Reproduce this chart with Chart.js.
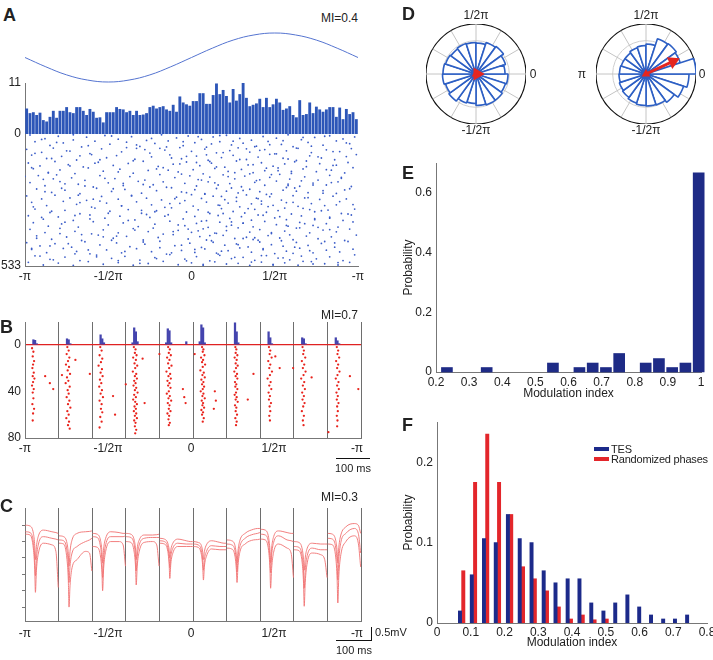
<!DOCTYPE html>
<html>
<head>
<meta charset="utf-8">
<script src="https://cdn.jsdelivr.net/npm/chart.js@4.4.1/dist/chart.umd.min.js"></script>
<style>
  body { margin: 0; width: 713px; height: 660px; position: relative; overflow: hidden; background: #fff;
         font-family: 'Liberation Sans', Arial, sans-serif; color: #222; }
  canvas { position: absolute; }
  .t { position: absolute; font-size: 12px; line-height: 1; white-space: nowrap; }
  .c { transform: translate(-50%, -50%); }
  .r { transform: translate(-100%, -50%); }
  .m { transform: translate(0, -50%); }
  .L { position: absolute; font-size: 18px; font-weight: bold; line-height: 1; }
  .bar { position: absolute; border-color: #111; border-style: solid; border-width: 0; }
  .key { position: absolute; width: 15px; height: 4px; }
</style>
</head>
<body>
<canvas id="aSine" width="333" height="64" style="left:25px;top:26px"></canvas>
<canvas id="aHist" width="372" height="75" style="left:0;top:70px"></canvas>
<canvas id="aRaster" width="372" height="162" style="left:0;top:126px"></canvas>
<canvas id="bChart" width="380" height="160" style="left:0;top:300px"></canvas>
<canvas id="cChart" width="380" height="150" style="left:0;top:495px"></canvas>
<canvas id="dGridL" width="100" height="100" style="left:426px;top:24px"></canvas>
<canvas id="dPolarL" width="100" height="100" style="left:426px;top:24px"></canvas>
<canvas id="dArrowL" width="100" height="100" style="left:426px;top:24px"></canvas>
<canvas id="dGridR" width="100" height="100" style="left:596px;top:24px"></canvas>
<canvas id="dPolarR" width="100" height="100" style="left:596px;top:24px"></canvas>
<canvas id="dArrowR" width="100" height="100" style="left:596px;top:24px"></canvas>
<canvas id="eChart" width="313" height="255" style="left:400px;top:150px"></canvas>
<canvas id="fChart" width="313" height="245" style="left:400px;top:410px"></canvas>

<div class="L" style="left:3px;top:6px">A</div>
<div class="t r" style="left:358px;top:18px">MI=0.4</div>
<div class="L" style="left:0;top:318px">B</div>
<div class="t r" style="left:358px;top:315px">MI=0.7</div>
<div class="bar" style="left:336px;top:458px;width:34px;border-top-width:1.5px"></div>
<div class="t c" style="left:353px;top:468px;font-size:11px">100 ms</div>
<div class="L" style="left:0;top:497px">C</div>
<div class="t r" style="left:358px;top:497px">MI=0.3</div>
<div class="bar" style="left:371px;top:627px;height:14px;border-left-width:1.5px"></div>
<div class="bar" style="left:336px;top:640px;width:36px;border-top-width:1.5px"></div>
<div class="t m" style="left:375px;top:632px;font-size:11px">0.5mV</div>
<div class="t c" style="left:354px;top:650px;font-size:11px">100 ms</div>

<div class="L" style="left:402px;top:5px">D</div>
<div class="t c" style="left:476px;top:15px">1/2π</div>
<div class="t c" style="left:533px;top:74px">0</div>
<div class="t c" style="left:476px;top:130px">-1/2π</div>
<div class="t c" style="left:646px;top:15px">1/2π</div>
<div class="t c" style="left:702px;top:74px">0</div>
<div class="t c" style="left:582px;top:74px">π</div>
<div class="t c" style="left:646px;top:130px">-1/2π</div>

<div class="L" style="left:402px;top:164px">E</div>
<div class="L" style="left:402px;top:416px">F</div>
<div class="key" style="left:594px;top:446.5px;background:#1c2a8a"></div>
<div class="t m" style="left:611px;top:448.5px;font-size:11px;letter-spacing:-0.2px">TES</div>
<div class="key" style="left:594px;top:456.5px;background:#e3262b"></div>
<div class="t m" style="left:611px;top:458.5px;font-size:11px;letter-spacing:-0.2px">Randomized phases</div>

<script>
// ---- shared phase axis (units of pi) ----
const phaseTicks = [-1, -0.5, 0, 0.5, 1];
const phaseLabels = ['-π', '-1/2π', '0', '1/2π', '-π'];

// ---- A: reference oscillation, phase histogram, spike raster ----
const sinePhase = [-1, -0.875, -0.75, -0.625, -0.5, -0.375, -0.25, -0.125, 0, 0.125, 0.25, 0.375, 0.5, 0.625, 0.75, 0.875, 1];
const sineValue = [0, -0.38, -0.71, -0.92, -1, -0.92, -0.71, -0.38, 0, 0.38, 0.71, 0.92, 1, 0.92, 0.71, 0.38, 0];

const histA = [5.5, 4.5, 4.7, 4.1, 4.6, 3.0, 2.7, 3.7, 5.0, 3.5, 5.0, 5.0, 5.8, 4.7, 4.5, 5.8, 5.8, 5.0, 4.1, 5.4,
  4.8, 3.5, 3.6, 2.5, 4.7, 4.7, 4.7, 5.8, 5.4, 5.3, 4.7, 5.0, 4.1, 5.0, 4.1, 4.2, 4.5, 5.8, 6.1, 5.5,
  5.8, 6.0, 5.3, 5.0, 6.3, 4.8, 8.1, 6.8, 6.4, 6.1, 7.1, 7.1, 8.8, 8.8, 6.5, 6.5, 8.4, 10.9, 8.6, 9.5,
  8.2, 6.8, 9.7, 7.2, 8.6, 11.2, 7.8, 6.0, 6.3, 6.6, 7.6, 5.8, 7.8, 5.8, 6.4, 7.6, 6.8, 5.2, 5.5, 6.0,
  4.1, 3.6, 7.3, 4.1, 4.3, 6.8, 4.5, 5.9, 5.3, 4.8, 5.3, 5.8, 5.8, 3.7, 5.7, 3.2, 5.4, 4.3, 4.7, 3.2];

// [phase in % of pi, trial]
const rasterA = [
  [-97,4],[-88,19],[-80,9],[-71,24],[-63,13],[-52,6],[-44,21],[-36,11],[-27,26],[-18,3],[-9,16],[-2,8],[6,22],[13,12],[21,5],[29,18],[36,25],[43,10],[51,17],[58,3],[66,23],[74,14],[83,7],[91,20],[98,12],
  [-94,31],[-85,46],[-77,36],[-66,52],[-58,29],[-49,41],[-39,33],[-31,50],[-22,38],[-14,28],[-5,47],[2,35],[9,53],[17,31],[24,44],[31,37],[39,49],[46,30],[54,42],[61,51],[70,34],[79,45],[87,28],[95,39],
  [-99,62],[-90,74],[-83,57],[-73,69],[-61,79],[-54,60],[-42,72],[-33,58],[-25,77],[-16,65],[-7,55],[0,70],[8,61],[15,76],[23,67],[28,56],[35,73],[44,63],[50,80],[57,68],[64,58],[72,75],[81,64],[89,71],[96,59],
  [-96,85],[-87,99],[-78,90],[-69,105],[-60,83],[-51,96],[-45,87],[-34,102],[-24,92],[-13,84],[-6,100],[3,89],[10,106],[18,95],[25,86],[33,103],[40,93],[47,82],[55,98],[63,107],[71,88],[78,97],[86,104],[93,91],[99,83],
  [-98,117],[-91,129],[-82,111],[-74,124],[-65,133],[-56,114],[-47,127],[-38,119],[-29,110],[-20,131],[-11,122],[-3,113],[5,128],[12,118],[20,134],[27,109],[34,125],[42,116],[49,130],[56,121],[62,112],[69,132],[77,120],[85,127],[94,115],
  [-95,140],[-86,155],[-79,145],[-70,160],[-62,137],[-53,150],[-43,142],[-35,158],[-26,147],[-17,136],[-8,153],[1,144],[7,161],[14,139],[22,151],[30,143],[37,156],[45,138],[52,148],[60,159],[67,141],[75,152],[84,146],[92,157],[97,136],
  [-100,171],[-89,183],[-81,165],[-72,177],[-64,187],[-55,168],[-46,180],[-37,172],[-28,186],[-19,164],[-10,176],[-1,169],[4,184],[11,174],[19,165],[26,181],[32,170],[39,188],[47,175],[53,163],[59,182],[68,173],[76,186],[83,167],[90,179],
  [-97,196],[-88,209],[-79,192],[-68,203],[-59,214],[-50,197],[-41,208],[-32,191],[-23,205],[-15,215],[-4,199],[3,210],[10,193],[16,206],[23,200],[30,213],[38,195],[44,207],[51,190],[58,202],[65,211],[73,198],[81,206],[88,193],[96,212],
  [-93,222],[-84,236],[-76,227],[-67,241],[-57,219],[-48,232],[-40,224],[-30,239],[-21,229],[-12,217],[-6,234],[2,225],[8,241],[15,220],[21,231],[28,238],[35,223],[41,233],[48,242],[55,227],[62,218],[70,237],[79,229],[87,240],[95,221],
  [-99,250],[-90,262],[-82,247],[-73,258],[-63,268],[-54,252],[-44,263],[-36,248],[-27,259],[-18,266],[-9,255],[0,245],[6,260],[13,251],[20,265],[27,256],[33,246],[40,261],[47,253],[54,267],[61,249],[68,258],[77,264],[85,251],[93,262],
  [-96,276],[-87,289],[-77,272],[-69,284],[-60,295],[-51,279],[-42,290],[-33,274],[-24,286],[-16,296],[-7,280],[1,291],[9,275],[16,287],[22,279],[29,294],[36,282],[42,271],[49,288],[57,277],[64,292],[72,281],[80,289],[89,273],[97,285],
  [-94,303],[-85,317],[-76,308],[-67,322],[-58,299],[-49,312],[-38,305],[-30,320],[-21,310],[-12,298],[-3,315],[4,306],[11,321],[18,301],[25,313],[32,319],[38,304],[45,316],[52,309],[60,323],[67,300],[74,314],[82,307],[90,321],[98,303],
  [-98,330],[-89,344],[-80,335],[-71,349],[-61,327],[-52,340],[-43,332],[-34,347],[-25,337],[-14,326],[-5,343],[2,333],[9,350],[16,329],[23,341],[30,334],[36,348],[43,328],[50,339],[57,346],[66,331],[74,342],[83,336],[91,349],[96,327],
  [-95,358],[-86,372],[-78,363],[-68,376],[-59,354],[-50,367],[-41,359],[-32,374],[-22,364],[-13,352],[-4,370],[3,361],[10,377],[17,356],[24,368],[31,360],[37,375],[44,353],[51,366],[58,372],[65,357],[73,369],[81,362],[88,376],[97,355],
  [-97,385],[-88,398],[-79,381],[-70,393],[-60,403],[-53,387],[-44,399],[-35,382],[-26,394],[-17,404],[-8,389],[0,397],[7,383],[14,400],[21,390],[28,379],[35,396],[41,386],[48,402],[56,392],[63,380],[71,399],[79,388],[87,395],[95,384],
  [-93,411],[-84,425],[-75,416],[-66,430],[-56,408],[-47,421],[-39,413],[-29,428],[-20,418],[-11,406],[-2,424],[5,414],[12,431],[19,409],[26,422],[33,417],[40,429],[46,410],[53,420],[61,427],[69,412],[76,423],[84,415],[92,430],[99,408],
  [-99,439],[-91,452],[-82,443],[-72,457],[-64,435],[-55,448],[-45,440],[-37,455],[-28,445],[-19,433],[-10,451],[-1,441],[6,458],[13,437],[20,449],[27,444],[34,456],[41,436],[48,447],[55,453],[63,438],[70,450],[78,442],[86,457],[94,434],
  [-96,466],[-87,479],[-77,462],[-69,474],[-61,484],[-51,468],[-42,480],[-33,463],[-24,475],[-15,485],[-6,470],[2,478],[8,464],[15,481],[22,471],[29,460],[36,477],[43,467],[50,483],[57,473],[65,461],[73,480],[81,469],[89,476],[97,465],
  [-94,492],[-85,506],[-76,497],[-67,511],[-57,489],[-48,502],[-40,494],[-31,509],[-22,499],[-13,487],[-4,505],[3,495],[11,512],[17,490],[24,503],[31,498],[38,510],[45,491],[52,501],[59,508],[66,493],[75,504],[83,496],[91,511],[98,488],
  [-98,518],[-89,529],[-80,521],[-71,531],[-62,515],[-53,526],[-44,519],[-35,530],[-26,523],[-17,514],[-8,528],[0,520],[7,532],[14,516],[21,525],[28,522],[35,531],[42,517],[49,527],[56,520],[64,530],[72,515],[80,524],[88,529],[95,518],
  [12,40],[-71,3],[55,27],[-33,44],[80,9],[-5,31],[38,51],[-90,22],[67,14],[-48,8],[25,29],[-15,52],[93,36],[-62,47],[4,11],[47,43],[-81,34],[72,49],[-24,18],[17,6],
  [-67,88],[33,60],[-12,97],[85,71],[-39,55],[58,101],[-94,78],[9,84],[41,66],[-55,104],[76,92],[-28,63],[19,75],[-84,99],[63,57],[-3,90],[29,103],[-75,68],[51,80],[-19,58],
  [44,148],[-58,118],[15,133],[-86,157],[69,109],[-21,141],[87,126],[-44,153],[3,115],[52,137],[-73,129],[26,156],[-7,121],[81,144],[-35,108],[60,151],[-96,136],[37,124],[-14,146],[11,111],
  [-41,199],[22,172],[73,206],[-83,181],[48,164],[-17,193],[90,175],[-64,210],[6,186],[35,161],[-29,204],[66,189],[-92,168],[14,197],[-52,179],[58,208],[-6,162],[41,185],[-76,201],[84,196],
  [31,228],[-68,247],[57,216],[-10,261],[79,239],[-47,221],[18,252],[-88,233],[45,244],[-25,214],[70,257],[-3,237],[24,218],[-59,263],[92,226],[-36,250],[8,243],[63,231],[-78,219],[39,259],
  [-13,281],[56,299],[-84,312],[27,272],[71,305],[-42,290],[10,316],[-67,277],[46,293],[-30,308],[87,286],[-4,269],[34,301],[-95,294],[61,276],[-22,314],[17,288],[-55,271],[78,310],[42,283],
  [53,334],[-76,356],[19,321],[-38,349],[83,340],[-8,367],[40,327],[-61,343],[68,362],[-27,325],[6,352],[-90,337],[31,360],[-50,320],[74,346],[-16,332],[57,369],[-70,329],[24,355],[94,323],
  [-34,388],[11,410],[65,379],[-79,402],[38,419],[-11,394],[83,386],[-53,415],[21,373],[48,398],[-93,421],[59,407],[-23,380],[4,391],[-66,406],[31,422],[76,377],[-45,412],[15,401],[-2,384],
  [28,447],[-62,468],[54,431],[-19,459],[86,440],[-40,474],[9,428],[-85,452],[43,463],[-29,436],[71,471],[-6,449],[37,426],[-74,443],[62,457],[-48,429],[18,473],[-96,462],[80,434],[2,466],
  [-57,496],[16,485],[67,514],[-31,522],[42,491],[-83,508],[7,527],[55,500],[-12,480],[88,519],[-44,511],[26,498],[-70,484],[73,525],[-21,503],[36,517],[-91,493],[61,482],[-3,512],[49,529]
];

// ---- B: spike histogram (ms, count) and raster [ms, trial] over 10 cycles ----
const histBTime = [25, 30, 35, 125, 130, 135, 225, 230, 235, 320, 325, 330, 335, 420, 425, 430, 435, 480,
  520, 525, 530, 535, 625, 630, 635, 725, 730, 735, 825, 830, 835, 925, 930, 935];
const histBCount = [4.3, 3.8, 0.9, 5.1, 4.3, 0.9, 8.5, 5.1, 1.7, 1.7, 14.5, 11.1, 2.6, 1.7, 13.7, 12, 1.7, 2.6,
  2.6, 17.1, 14.5, 1.7, 18.8, 11.1, 1.7, 11.1, 6, 0.9, 6, 5.1, 0.9, 6, 3.4, 0.9];

const rasterB = [
  [21,3],[25,6],[23,10],[27,14],[24,17],[22,20],[26,24],[23,27],[28,29],[24,32],[21,35],[26,38],[23,41],[25,46],[22,51],[27,55],[24,59],[23,65],[74,33],[84,38],[60,27],
  [126,2],[130,5],[124,8],[132,11],[128,14],[122,17],[131,19],[127,22],[134,25],[125,28],[129,31],[121,33],[133,36],[127,39],[130,42],[124,45],[132,48],[128,51],[135,54],[126,57],[130,60],[123,63],[131,66],[128,69],[133,72],[110,26],[150,13],
  [224,2],[228,5],[222,9],[230,12],[226,15],[219,18],[229,21],[225,24],[231,27],[223,30],[227,33],[221,36],[229,39],[225,42],[232,45],[222,48],[228,51],[226,55],[230,58],[224,62],[228,66],[222,71],[193,25],[268,60],[262,44],
  [324,2],[329,4],[327,7],[332,9],[322,11],[330,13],[326,16],[334,18],[328,20],[321,23],[331,25],[327,27],[333,29],[325,31],[329,33],[323,35],[331,37],[327,39],[335,41],[325,43],[330,45],[322,47],[328,49],[333,51],[326,53],[330,55],[324,57],[331,59],[327,61],[333,63],[325,65],[329,67],[327,70],[331,73],[328,76],[350,12],[356,50],[300,34],
  [426,2],[431,4],[428,7],[434,9],[423,11],[430,13],[426,16],[436,18],[429,20],[421,23],[432,25],[427,27],[434,29],[424,31],[430,33],[426,35],[433,37],[428,40],[422,42],[431,44],[427,46],[435,48],[425,50],[430,52],[428,55],[433,57],[424,59],[429,61],[427,64],[431,67],[428,69],[400,8],[474,45],[478,50],[470,38],
  [527,2],[531,4],[529,6],[534,9],[524,11],[530,13],[527,15],[536,17],[529,19],[522,22],[532,24],[528,26],[535,28],[525,30],[531,32],[527,34],[533,36],[529,38],[523,40],[531,42],[528,44],[535,46],[526,48],[530,50],[528,52],[533,54],[525,56],[530,58],[527,60],[532,63],[529,66],[565,40],[568,48],[562,55],[505,8],
  [626,2],[629,4],[627,7],[632,9],[624,11],[630,13],[627,16],[633,18],[628,20],[623,23],[631,25],[627,27],[632,29],[625,32],[629,34],[626,36],[632,38],[628,41],[624,43],[630,45],[627,47],[633,49],[625,52],[629,54],[627,57],[631,60],[626,63],[630,66],[628,69],[680,25],[663,47],
  [726,2],[730,5],[728,8],[734,11],[724,14],[730,17],[727,20],[735,23],[729,26],[722,29],[731,32],[727,35],[733,38],[725,41],[729,44],[726,47],[732,50],[728,53],[730,57],[727,61],[729,65],[758,20],[745,10],
  [826,2],[830,5],[828,8],[834,11],[824,14],[831,17],[827,20],[835,23],[829,26],[822,29],[831,32],[827,35],[833,38],[825,41],[830,44],[826,47],[832,50],[828,53],[824,57],[830,61],[827,65],[829,69],[798,20],[853,28],
  [928,2],[932,5],[930,8],[935,11],[926,14],[932,17],[929,20],[936,23],[930,26],[925,29],[933,32],[929,35],[934,38],[927,41],[931,44],[928,47],[933,50],[929,53],[931,57],[928,61],[930,65],[929,70],[903,75],[967,27],[992,38]
];

// ---- C: averaged traces per cycle (mean and +/- sd), 11 samples per cycle ----
const cycleStarts = [0, 100, 200, 300, 400, 500, 600, 700, 800, 900];
const traceOffsets = [1, 15, 25, 29, 31, 34, 40, 55, 80, 92, 99];
const traceUpper = [
  6.0, 5.95, 5.5, 4.75, 3.9, 4.7, 5.35, 5.7, 5.6, 5.55, 5.5,
  5.35, 5.3, 4.9, 4.25, 3.5, 4.4, 5.1, 5.5, 5.6, 5.62, 5.65,
  5.5, 5.45, 5.05, 4.4, 3.7, 4.55, 5.2, 5.6, 5.55, 5.5, 5.5,
  5.5, 5.45, 5.1, 4.55, 3.9, 4.6, 5.1, 5.4, 5.4, 5.42, 5.45,
  5.2, 5.15, 4.9, 4.5, 4.0, 4.5, 4.9, 5.15, 5.05, 5.0, 5.0,
  5.0, 4.95, 4.75, 4.35, 3.9, 4.4, 4.8, 5.05, 4.95, 4.9, 4.9,
  5.1, 5.05, 4.75, 4.2, 3.7, 4.45, 5.1, 5.5, 5.75, 5.8, 5.8,
  5.75, 5.7, 5.25, 4.5, 3.7, 4.6, 5.3, 5.65, 5.55, 5.5, 5.5,
  5.0, 4.95, 4.55, 3.9, 3.25, 4.0, 4.6, 4.9, 4.85, 4.85, 4.85,
  5.5, 5.45, 5.05, 4.4, 3.7, 4.65, 5.4, 5.9, 6.1, 6.0, 5.5];
const traceMiddle = [
  5.6, 5.55, 4.95, 3.95, 2.9, 3.95, 4.85, 5.3, 5.2, 5.15, 5.1,
  5.1, 5.05, 4.45, 3.55, 2.5, 3.5, 4.3, 4.7, 5.0, 5.1, 5.2,
  5.3, 5.25, 4.65, 3.8, 2.8, 3.9, 4.8, 5.3, 5.3, 5.3, 5.35,
  5.3, 5.25, 4.8, 4.05, 3.2, 4.1, 4.8, 5.2, 5.25, 5.25, 5.25,
  5.05, 5.0, 4.65, 4.05, 3.4, 4.1, 4.6, 4.9, 4.85, 4.85, 4.85,
  4.85, 4.8, 4.45, 3.85, 3.25, 3.9, 4.4, 4.75, 4.7, 4.7, 4.7,
  4.85, 4.8, 4.45, 3.8, 3.15, 4.05, 4.75, 5.2, 5.45, 5.5, 5.55,
  5.45, 5.4, 4.9, 4.0, 3.1, 4.15, 4.95, 5.35, 5.1, 5.05, 5.0,
  4.7, 4.65, 4.1, 3.2, 2.15, 3.25, 4.15, 4.6, 4.5, 4.5, 4.5,
  5.2, 5.15, 4.6, 3.7, 2.65, 3.9, 4.95, 5.5, 5.8, 5.5, 4.3];
const traceLower = [
  5.45, 5.4, 4.55, 3.3, 1.9, 3.25, 4.3, 4.9, 4.8, 4.4, 2.2,
  4.9, 4.85, 3.9, 2.6, 1.0, 2.3, 3.4, 3.9, 4.4, 4.3, 3.2,
  4.7, 4.65, 4.05, 3.1, 2.0, 3.35, 4.4, 5.0, 5.0, 4.8, 3.5,
  5.0, 4.95, 4.35, 3.45, 2.35, 3.5, 4.4, 4.95, 5.0, 4.8, 3.5,
  4.9, 4.85, 4.4, 3.6, 2.75, 3.65, 4.3, 4.7, 4.7, 4.7, 4.7,
  4.7, 4.65, 4.2, 3.45, 2.65, 3.5, 4.1, 4.55, 4.5, 4.5, 4.5,
  4.6, 4.55, 4.1, 3.3, 2.5, 3.55, 4.4, 4.85, 5.1, 5.12, 5.15,
  5.15, 5.1, 4.45, 3.35, 2.15, 3.35, 4.35, 4.85, 4.6, 4.3, 2.8,
  4.5, 4.45, 3.7, 2.45, 1.05, 2.5, 3.7, 4.3, 4.2, 3.9, 2.8,
  4.85, 4.8, 4.0, 2.7, 1.25, 2.9, 4.2, 5.0, 5.35, 4.9, 3.45];
const traceTicks = [1, 2, 3, 4, 5, 6];

// ---- D: polar phase histograms, 20 bins, clockwise from phase 0 ----
const polarLeft = [0.64, 0.62, 0.65, 0.65, 0.63, 0.59, 0.61, 0.67, 0.64, 0.67, 0.66, 0.64, 0.62, 0.64, 0.63, 0.62, 0.66, 0.68, 0.62, 0.58];
const polarRight = [0.86, 0.79, 0.7, 0.65, 0.64, 0.63, 0.61, 0.58, 0.56, 0.54, 0.53, 0.52, 0.52, 0.55, 0.57, 0.6, 0.74, 0.75, 0.72, 1.0];
const meanLeft = { angle: 0, length: 0.03 };
const meanRight = { angle: 25, length: 0.7 };

// ---- E: modulation index distribution ----
const miBinsE = [0.233, 0.353, 0.553, 0.633, 0.673, 0.713, 0.753, 0.833, 0.873, 0.913, 0.953, 0.993];
const probE = [0.015, 0.015, 0.03, 0.015, 0.03, 0.015, 0.062, 0.03, 0.045, 0.015, 0.03, 0.667];

// ---- F: TES vs randomized phases ----
const miBinsF = [0.073, 0.108, 0.144, 0.179, 0.215, 0.25, 0.285, 0.321, 0.356, 0.392, 0.427, 0.462, 0.498, 0.533, 0.569, 0.604, 0.639, 0.675, 0.71, 0.746];
const probTES = [0.015, 0.06, 0.105, 0.1, 0.135, 0.105, 0.1, 0.065, 0.05, 0.055, 0.055, 0.025, 0.015, 0.025, 0.035, 0.02, 0.01, 0.005, 0.005, 0.01];
const probRandom = [0.065, 0.175, 0.235, 0.175, 0.135, 0.07, 0.055, 0.04, 0.02, 0.005, 0.01, 0.004, 0.005];

// ---------------------------------------------------------------
Chart.defaults.font.family = "'Liberation Sans', Arial, sans-serif";
Chart.defaults.font.size = 12;
Chart.defaults.color = '#222';
Chart.defaults.animation = false;
Chart.defaults.responsive = false;
Chart.defaults.devicePixelRatio = 1;
Chart.defaults.plugins.legend.display = false;
Chart.defaults.plugins.tooltip.enabled = false;

const el = (id) => document.getElementById(id);
// fixed axis sizes, and no extra room for overhanging edge labels
const noPad = (s) => { s.paddingTop = 0; s.paddingBottom = 0; s.paddingLeft = 0; s.paddingRight = 0; };
const fixWidth = (w) => (s) => { s.width = w; noPad(s); };
const fixHeight = (h) => (s) => { s.height = h; noPad(s); };
const AXIS = '#777';
const CYCLE = '#6e6e6e';
const oneDecimal = (v) => String(Math.round(v * 10) / 10);

function phaseAxis(max, extra) {
  return Object.assign({
    type: 'linear',
    position: 'bottom',
    offset: false,
    min: -1,
    max,
    afterBuildTicks: (s) => { s.ticks = phaseTicks.map((v) => ({ value: v })); },
    ticks: { callback: (v, i) => phaseLabels[i], padding: 3, maxRotation: 0, autoSkip: false },
    grid: { display: false, drawTicks: false, offset: false },
    border: { display: false },
  }, extra || {});
}
function cycleAxis() {
  return {
    type: 'linear',
    offset: false,
    min: 0,
    max: 1000,
    weight: 0,
    ticks: { stepSize: 100, display: false },
    grid: { color: CYCLE, drawTicks: false, offset: false },
    border: { color: AXIS },
    afterFit: fixHeight(0),
  };
}

// A: oscillation
new Chart(el('aSine'), {
  type: 'line',
  data: {
    datasets: [{
      data: sinePhase.map((p, i) => ({ x: p, y: sineValue[i] })),
      borderColor: '#5574d0',
      borderWidth: 1,
      pointRadius: 0,
      tension: 0.4,
      clip: false,
    }],
  },
  options: {
    layout: { padding: { top: 7, bottom: 8 } },
    scales: {
      x: { type: 'linear', min: -1, max: 1, display: false },
      y: { min: -1, max: 1, display: false },
    },
  },
});

// A: phase histogram
new Chart(el('aHist'), {
  type: 'bar',
  data: {
    labels: histA.map((_, i) => i),
    datasets: [{ data: histA, backgroundColor: '#2d56b8', barPercentage: 0.86, categoryPercentage: 1 }],
  },
  options: {
    layout: { padding: { top: 13, right: 14, bottom: 11 } },
    scales: {
      x: { display: false },
      y: {
        min: 0,
        max: 11,
        afterBuildTicks: (s) => { s.ticks = [{ value: 0 }, { value: 11 }]; },
        afterFit: fixWidth(25),
        ticks: { padding: 4 },
        grid: { display: false, drawTicks: false },
        border: { color: AXIS },
      },
    },
  },
});

// A: raster
new Chart(el('aRaster'), {
  type: 'scatter',
  data: {
    datasets: [{
      data: rasterA.map(([p, t]) => ({ x: p / 100, y: t })),
      backgroundColor: '#3a5cc8',
      borderWidth: 0,
      pointRadius: 0.9,
    }],
  },
  options: {
    layout: { padding: { top: 8, right: 14 } },
    scales: {
      x: phaseAxis(1, { afterFit: fixHeight(22), border: { color: AXIS } }),
      y: {
        reverse: true,
        min: 0,
        max: 533,
        afterBuildTicks: (s) => { s.ticks = [{ value: 533 }]; },
        afterFit: fixWidth(25),
        ticks: { padding: 4 },
        grid: { display: false, drawTicks: false },
        border: { color: AXIS },
      },
    },
  },
});

// B: histogram + raster across 10 cycles
new Chart(el('bChart'), {
  type: 'bar',
  data: {
    datasets: [
      {
        data: histBTime.map((t, i) => ({ x: t, y: -histBCount[i] })),
        backgroundColor: '#4444ae',
        barThickness: 1.6,
        xAxisID: 'x',
      },
      {
        type: 'scatter',
        data: rasterB.map(([t, k]) => ({ x: t, y: k })),
        backgroundColor: '#e8231c',
        borderWidth: 0,
        pointRadius: 1.15,
        xAxisID: 'x',
      },
    ],
  },
  options: {
    layout: { padding: { top: 22, right: 19 } },
    scales: {
      x: cycleAxis(),
      xp: phaseAxis(1.024, { weight: 1, afterFit: fixHeight(22) }),
      y: {
        reverse: true,
        min: -19.5,
        max: 80,
        afterBuildTicks: (s) => { s.ticks = [{ value: 0 }, { value: 40 }, { value: 80 }]; },
        afterFit: fixWidth(25),
        ticks: { padding: 4 },
        grid: {
          drawTicks: false,
          lineWidth: 1.3,
          color: (ctx) => (ctx.tick && ctx.tick.value === 0 ? '#e02222' : 'rgba(0,0,0,0)'),
        },
        border: { color: AXIS },
      },
    },
  },
});

// C: traces
function traceData(values) {
  const pts = [];
  cycleStarts.forEach((start, c) => {
    traceOffsets.forEach((off, j) => pts.push({ x: start + off, y: values[c * traceOffsets.length + j] }));
    pts.push({ x: start + 99.5, y: null });
  });
  return pts;
}
const traceStyle = { borderColor: '#f07272', borderWidth: 0.9, pointRadius: 0, cubicInterpolationMode: 'monotone', spanGaps: false };
new Chart(el('cChart'), {
  type: 'line',
  data: {
    datasets: [
      Object.assign({ data: traceData(traceUpper) }, traceStyle),
      Object.assign({ data: traceData(traceMiddle) }, traceStyle),
      Object.assign({ data: traceData(traceLower) }, traceStyle),
    ],
  },
  options: {
    layout: { padding: { top: 13, right: 19 } },
    scales: {
      x: cycleAxis(),
      xp: phaseAxis(1.024, { weight: 1, afterFit: fixHeight(24), ticks: { callback: (v, i) => phaseLabels[i], padding: 5, maxRotation: 0, autoSkip: false } }),
      y: {
        min: 0.15,
        max: 7.05,
        afterBuildTicks: (s) => { s.ticks = traceTicks.map((v) => ({ value: v })); },
        afterFit: fixWidth(25),
        ticks: { display: false },
        grid: { drawOnChartArea: false, drawTicks: true, tickLength: 3, color: AXIS },
        border: { color: AXIS },
      },
    },
  },
});

// D: polar plots (grid chart below, wedge chart above, mean vector on top)
function polarGrid(id) {
  new Chart(el(id), {
    type: 'radar',
    data: { labels: new Array(12).fill(''), datasets: [{ data: new Array(12).fill(0), pointRadius: 0, borderWidth: 0 }] },
    options: {
      scales: {
        r: {
          min: 0,
          max: 3,
          ticks: { display: false, stepSize: 1 },
          pointLabels: { display: false },
          angleLines: { color: '#c4c4c4' },
          grid: {
            circular: true,
            color: (ctx) => (ctx.tick && ctx.tick.value === 3 ? '#111' : '#cfcfcf'),
            lineWidth: (ctx) => (ctx.tick && ctx.tick.value === 3 ? 1.2 : 1),
          },
        },
      },
    },
  });
}
function polarWedges(id, values) {
  new Chart(el(id), {
    type: 'polarArea',
    data: {
      labels: values.map((_, i) => i),
      datasets: [{ data: values, backgroundColor: '#fff', borderColor: '#2d5fc4', borderWidth: 1.6 }],
    },
    options: {
      scales: {
        r: {
          min: 0,
          max: 1,
          startAngle: 90,
          ticks: { display: false },
          pointLabels: { display: false },
          grid: { display: false },
          angleLines: { display: false },
        },
      },
    },
  });
}
function meanArrow(id, mv) {
  const a = (mv.angle * Math.PI) / 180;
  new Chart(el(id), {
    type: 'scatter',
    data: {
      datasets: [{
        data: [{ x: 0, y: 0 }, { x: mv.length * Math.cos(a), y: mv.length * Math.sin(a) }],
        showLine: true,
        borderColor: '#e52620',
        backgroundColor: '#e52620',
        borderWidth: 3,
        pointStyle: 'triangle',
        pointRadius: [2, 4.5],
        pointRotation: [0, 90 - mv.angle],
        clip: false,
      }],
    },
    options: {
      scales: {
        x: { min: -1, max: 1, display: false },
        y: { min: -1, max: 1, display: false },
      },
    },
  });
}
polarGrid('dGridL');
polarWedges('dPolarL', polarLeft);
meanArrow('dArrowL', meanLeft);
polarGrid('dGridR');
polarWedges('dPolarR', polarRight);
meanArrow('dArrowR', meanRight);

// E: MI distribution
new Chart(el('eChart'), {
  type: 'bar',
  data: {
    datasets: [{
      data: miBinsE.map((m, i) => ({ x: m, y: probE[i] })),
      backgroundColor: '#1e2b86',
      barThickness: 11,
      clip: 8,
    }],
  },
  options: {
    layout: { padding: { top: 13, right: 12 } },
    scales: {
      x: {
        type: 'linear',
        offset: false,
        min: 0.2,
        max: 1,
        ticks: { stepSize: 0.1, padding: 3, maxRotation: 0, callback: oneDecimal },
        grid: { display: false, drawTicks: false, offset: false },
        border: { color: AXIS },
        title: { display: true, text: 'Modulation index', padding: { top: 0, bottom: 4 } },
        afterFit: fixHeight(33),
      },
      y: {
        min: 0,
        max: 0.7,
        ticks: {
          stepSize: 0.1,
          padding: 4,
          callback: (v) => { const k = Math.round(v * 10); return k % 2 === 0 && k <= 6 ? String(k / 10) : ''; },
        },
        grid: { display: false, drawTicks: false },
        border: { color: AXIS },
        title: { display: true, text: 'Probability', padding: { top: 1, bottom: 0 } },
        afterFit: fixWidth(36),
      },
    },
  },
});

// F: TES vs randomized phases
new Chart(el('fChart'), {
  type: 'bar',
  data: {
    datasets: [
      { label: 'TES', data: miBinsF.map((m, i) => ({ x: m, y: probTES[i] })), backgroundColor: '#1c2a8a', barThickness: 3.3 },
      { label: 'Randomized phases', data: probRandom.map((p, i) => ({ x: miBinsF[i], y: p })), backgroundColor: '#e3262b', barThickness: 3.3 },
    ],
  },
  options: {
    layout: { padding: { top: 12, right: 6 } },
    scales: {
      x: {
        type: 'linear',
        offset: false,
        min: 0,
        max: 0.8,
        ticks: { stepSize: 0.1, padding: 2, maxRotation: 0, callback: oneDecimal },
        grid: { display: false, drawTicks: false, offset: false },
        border: { color: AXIS },
        title: { display: true, text: 'Modulation index', padding: { top: 0, bottom: 5 } },
        afterFit: fixHeight(32),
      },
      y: {
        min: 0,
        max: 0.25,
        ticks: {
          stepSize: 0.05,
          padding: 4,
          callback: (v) => { const k = Math.round(v * 100); return k % 10 === 0 ? String(k / 100) : ''; },
        },
        grid: { display: false, drawTicks: false },
        border: { color: AXIS },
        title: { display: true, text: 'Probability', padding: { top: 1, bottom: 0 } },
        afterFit: fixWidth(37),
      },
    },
  },
});
</script>
</body>
</html>
